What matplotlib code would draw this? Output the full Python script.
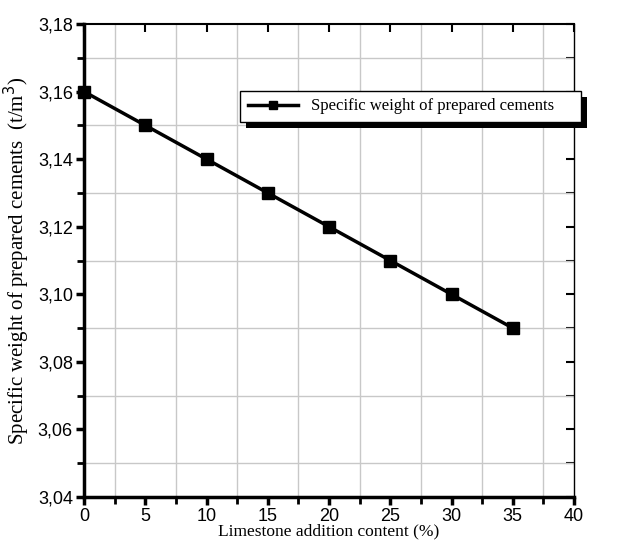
import matplotlib
matplotlib.use('Agg')
import matplotlib.pyplot as plt
import matplotlib.ticker as ticker
from matplotlib.patches import Rectangle

limestone = [0, 5, 10, 15, 20, 25, 30, 35]
specific_weight = [3.16, 3.15, 3.14, 3.13, 3.12, 3.11, 3.10, 3.09]
series_label = "Specific weight of prepared cements"


def comma(y, pos):
    return '{:.2f}'.format(y).replace('.', ',')


def main():
    W, H = 623, 547
    fig = plt.figure(figsize=(W / 100, H / 100), dpi=100)
    ax = fig.add_axes([84 / W, 1 - 497 / H, 490 / W, 473 / H])

    ax.plot(limestone, specific_weight, color='black', linewidth=2.5,
            marker='s', markersize=8, label=series_label, zorder=5,
            clip_on=False)

    ax.set_xlim(0, 40)
    ax.set_ylim(3.04, 3.18)
    ax.xaxis.set_major_locator(ticker.MultipleLocator(5))
    ax.xaxis.set_minor_locator(ticker.MultipleLocator(2.5))
    ax.yaxis.set_major_locator(ticker.MultipleLocator(0.02))
    ax.yaxis.set_minor_locator(ticker.MultipleLocator(0.01))
    ax.yaxis.set_major_formatter(ticker.FuncFormatter(comma))

    ax.grid(True, which='minor', color='#c8c8c8', linewidth=1)
    ax.grid(False, which='major')

    for side in ['left', 'bottom']:
        ax.spines[side].set_linewidth(2.5)
    ax.spines['top'].set_linewidth(1.5)
    ax.spines['right'].set_linewidth(1.0)

    ax.tick_params(axis='both', which='major', direction='out', length=6,
                   width=2.5, labelsize=13, pad=2)
    ax.tick_params(axis='both', which='minor', direction='out', length=5,
                   width=2)
    for lbl in ax.get_xticklabels() + ax.get_yticklabels():
        lbl.set_fontfamily('Liberation Sans')

    # inward ticks on the top and right, like the original
    sec_x = ax.secondary_xaxis('top')
    sec_x.xaxis.set_major_locator(ticker.MultipleLocator(5))
    sec_x.tick_params(direction='in', length=6, width=1.5, labeltop=False)
    sec_x.spines['top'].set_visible(False)
    sec_y = ax.secondary_yaxis('right')
    sec_y.yaxis.set_major_locator(ticker.MultipleLocator(0.02))
    sec_y.yaxis.set_minor_locator(ticker.MultipleLocator(0.01))
    sec_y.tick_params(which='both', direction='in', length=6, width=1.5,
                      labelright=False)
    sec_y.spines['right'].set_visible(False)

    ax.set_xlabel("Limestone addition content (%)", family='Liberation Serif',
                  fontsize=12.5, labelpad=-1)
    ax.set_ylabel("Specific weight of prepared cements  (t/m$^3$)",
                  family='Liberation Serif', fontsize=15, labelpad=4)

    handles, labels = ax.get_legend_handles_labels()
    leg = fig.legend(handles, labels, loc='upper left',
                     bbox_to_anchor=(240 / W, 1 - 91 / H),
                     frameon=False,
                     prop={'family': 'Liberation Serif', 'size': 12},
                     handlelength=3, borderpad=0.45, markerscale=0.75,
                     borderaxespad=0)
    leg.set_zorder(11)

    # legend box (a bit wider than the text) with a solid offset shadow
    fig.canvas.draw()
    bb = leg.get_window_extent()
    box_w = bb.width + 20
    shadow = Rectangle((bb.x0 + 6, bb.y0 - 6), box_w, bb.height,
                       transform=None, facecolor='black', edgecolor='none',
                       zorder=9)
    box = Rectangle((bb.x0, bb.y0), box_w, bb.height, transform=None,
                    facecolor='white', edgecolor='black', linewidth=1,
                    zorder=10)
    fig.add_artist(shadow)
    fig.add_artist(box)

    plt.savefig("out.png", dpi=100)


if __name__ == "__main__":
    main()
